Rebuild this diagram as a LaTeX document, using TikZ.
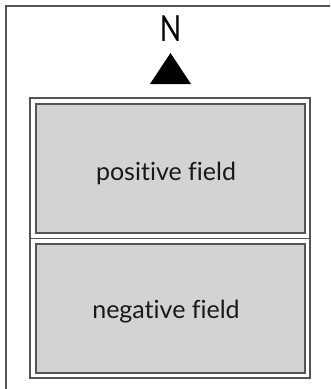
\documentclass[tikz,border=0pt]{standalone}
\usepackage{fontspec}
\setmainfont{Lato}[Ligatures=CommonOff]
\definecolor{fieldgray}{HTML}{D3D3D3}
\definecolor{linegray}{HTML}{555555}
\tikzset{
  frameline/.style={draw=linegray, line width=1.4pt},
  fieldbox/.style={frameline, fill=fieldgray},
  fieldlabel/.style={font=\fontsize{25}{28}\selectfont, text=black!90, inner sep=0pt, anchor=base}
}
\begin{document}
\begin{tikzpicture}[x=1pt,y=-1pt]
\useasboundingbox (0,0) rectangle (330,389);
\clip (0,0) rectangle (330,389);
\fill[white] (0,0) rectangle (330,389);
% outer frame (extends past right and bottom edges)
\draw[frameline] (6,6) rectangle (345,400);
% north arrow
\node[inner sep=0pt, font=\fontsize{36}{40}\selectfont, xscale=0.78, anchor=base] (north) at (170.5,41.5) {N};
\fill[black] (170.5,53) -- (191,84) -- (150,84) -- cycle;
% field enclosure
\draw[frameline, fill=white] (30,98) rectangle (310,378);
\draw[frameline] (30,238.5) -- (310,238.5);
\draw[fieldbox] (36,104) rectangle (305,233);
\draw[fieldbox] (36,244) rectangle (305,373);
\node[fieldlabel] (pos) at (166,180) {positive field};
\node[fieldlabel] (neg) at (166,318) {negative field};
\end{tikzpicture}
\end{document}
